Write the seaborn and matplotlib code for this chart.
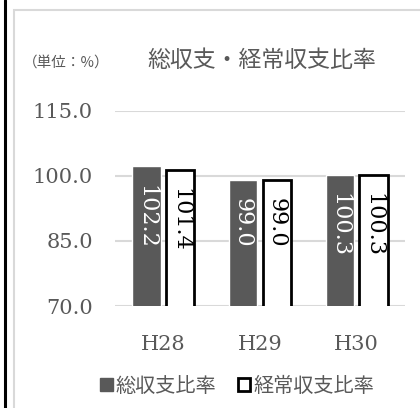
import pandas as pd
import matplotlib.pyplot as plt
import seaborn as sns
from matplotlib.patches import Patch, Rectangle
from matplotlib.lines import Line2D

# dati
anni = ['H28', 'H29', 'H30']
totale = [102.2, 99.0, 100.3]      # 総収支比率
ordinario = [101.4, 99.0, 100.3]   # 経常収支比率
serie = ['総収支比率', '経常収支比率']
y_ticks = [70.0, 85.0, 100.0, 115.0]

df = pd.DataFrame({
    '年度': anni * 2,
    '比率': totale + ordinario,
    '系列': [serie[0]] * 3 + [serie[1]] * 3,
})

sns.set_theme(style='white')
plt.rcParams['font.family'] = ['DejaVu Serif', 'Noto Sans CJK JP']

grigio = '#595959'
linea = '#d9d9d9'

fig = plt.figure(figsize=(4.2, 4.08), dpi=100)
ax = fig.add_axes([0.274, 0.25, 0.69, 0.478])

sns.barplot(data=df, x='年度', y='比率', hue='系列', ax=ax,
            palette=[grigio, 'white'], width=0.7, gap=0.17,
            legend=False, saturation=1)

# barre bianche con bordo nero
for p in ax.containers[1]:
    p.set_edgecolor('black')
    p.set_linewidth(2)

ax.set_ylim(70, 115)
ax.set_yticks(y_ticks)
ax.set_yticklabels([f'{v:.1f}' for v in y_ticks], fontsize=15, color=grigio,
                   family='DejaVu Serif')
ax.set_xticklabels(anni, fontsize=15, color=grigio, family='DejaVu Serif')
ax.tick_params(axis='y', pad=16, length=0)
ax.tick_params(axis='x', pad=21, length=0)
ax.set_xlabel('')
ax.set_ylabel('')
for s in ax.spines.values():
    s.set_visible(False)
ax.yaxis.grid(True, color=linea, linewidth=1.5)
ax.set_axisbelow(True)
ax.set_xlim(-0.5, 2.5)

# etichette dei valori, ruotate
for i, cont in enumerate(ax.containers):
    valori = totale if i == 0 else ordinario
    colore = 'white' if i == 0 else 'black'
    for p, v in zip(cont, valori):
        ax.annotate(f'{v:.1f}', (p.get_x() + p.get_width() / 2, p.get_y() + p.get_height()),
                    xytext=(0, -13), textcoords='offset points',
                    rotation=270, ha='center', va='top', fontsize=16,
                    color=colore, family='DejaVu Serif', clip_on=False)

# titolo e unità
fig.text(0.622, 0.851, '総収支・経常収支比率', fontsize=16.5, color=grigio,
         family='Noto Sans CJK JP', ha='center', va='center')
fig.text(0.157, 0.846, '（単位：%）', fontsize=10.5, color=grigio,
         family='Noto Sans CJK JP', ha='center', va='center')

# legenda
maniglie = [Patch(facecolor=grigio, edgecolor=grigio),
            Patch(facecolor='white', edgecolor='black', linewidth=2)]
fig.legend(maniglie, serie, loc='center', bbox_to_anchor=(0.565, 0.053),
           ncol=2, frameon=False, handlelength=0.6, handleheight=0.6,
           handletextpad=0.15, columnspacing=1.1,
           prop={'family': 'Noto Sans CJK JP', 'size': 14.5}, labelcolor=grigio)

# cornice
fig.add_artist(Line2D([0.012, 0.012], [0, 1], color='black', linewidth=2.2,
                      transform=fig.transFigure))
fig.add_artist(Rectangle((0.033, -0.1), 1.1, 1.075, fill=False,
                         edgecolor=linea, linewidth=1.5, transform=fig.transFigure))

fig.savefig('out.png', dpi=100)
